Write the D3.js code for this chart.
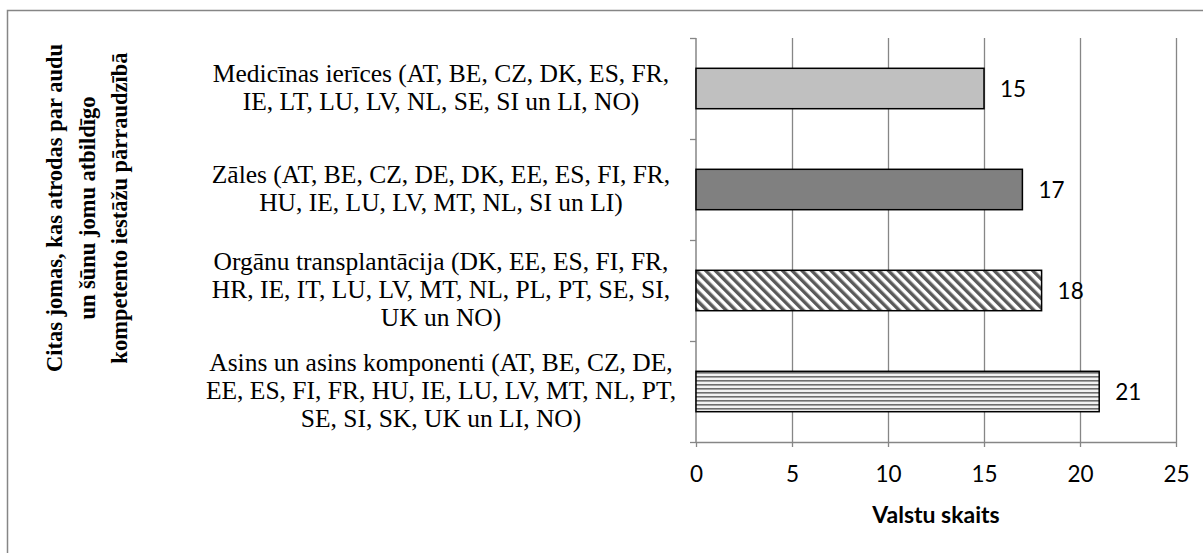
<!DOCTYPE html>
<html>
<head>
<meta charset="utf-8">
<script src="https://cdn.jsdelivr.net/npm/d3@7"></script>
<style>
  html, body { margin: 0; padding: 0; background: #fff; }
  svg { display: block; }
</style>
</head>
<body>
<script>
// Areas supervised by the tissue and cell competent authorities
const categoryLines = [
  ["Medicīnas ierīces (AT, BE, CZ, DK, ES, FR,", "IE, LT, LU, LV, NL, SE, SI un LI, NO)"],
  ["Zāles (AT, BE, CZ, DE, DK, EE, ES, FI, FR,", "HU, IE, LU, LV, MT, NL, SI un LI)"],
  ["Orgānu transplantācija (DK, EE, ES, FI, FR,", "HR, IE, IT, LU, LV, MT, NL, PL, PT, SE, SI,", "UK un NO)"],
  ["Asins un asins komponenti (AT, BE, CZ, DE,", "EE, ES, FI, FR, HU, IE, LU, LV, MT, NL, PT,", "SE, SI, SK, UK un LI, NO)"]
];
const categoryKeys = ["med", "zales", "organi", "asins"];
const values = [15, 17, 18, 21];
const xTicks = [0, 5, 10, 15, 20, 25];
const xTitle = "Valstu skaits";
const yTitleLines = [
  "Citas jomas, kas atrodas par audu",
  "un šūnu jomu atbildīgo",
  "kompetento iestāžu pārraudzībā"
];

(function () {
const W = 1203, H = 553;
const plotLeft = 696, plotRight = 1176, plotTop = 38, plotBottom = 442;
const gridColor = "#868686";
const sans = "Lato, 'Open Sans', sans-serif";
const serif = "'Liberation Serif', 'Times New Roman', serif";

const svg = d3.select("body").append("svg")
  .attr("width", W).attr("height", H);

// hatch patterns
const defs = svg.append("defs");
const diag = defs.append("pattern")
  .attr("id", "diag").attr("patternUnits", "userSpaceOnUse")
  .attr("width", 6.8).attr("height", 6.8)
  .attr("patternTransform", "rotate(-45)");
diag.append("rect").attr("width", 6.8).attr("height", 6.8).attr("fill", "#fff");
diag.append("rect").attr("width", 3.4).attr("height", 6.8).attr("fill", "#5a5a5a");

const horiz = defs.append("pattern")
  .attr("id", "horiz").attr("patternUnits", "userSpaceOnUse")
  .attr("width", 8).attr("height", 4);
horiz.append("rect").attr("width", 8).attr("height", 4).attr("fill", "#f2f2f2");
horiz.append("rect").attr("y", 0).attr("width", 8).attr("height", 1.6).attr("fill", "#6e6e6e");

const fills = ["#c0c0c0", "#808080", "url(#diag)", "url(#horiz)"];

// outer frame (top and left edges)
svg.append("path")
  .attr("d", `M7.5,${H} V10.5 H${W}`)
  .attr("fill", "none").attr("stroke", gridColor).attr("stroke-width", 1.5);

const x = d3.scaleLinear().domain([0, 25]).range([plotLeft, plotRight]);
const y = d3.scaleBand().domain(categoryKeys).range([plotTop, plotBottom])
  .paddingInner(0.6).paddingOuter(0.3);
const edge = d3.scaleLinear().domain([0, categoryKeys.length]).range([plotTop, plotBottom]);

// vertical gridlines
svg.append("g").selectAll("line").data(xTicks.slice(1)).join("line")
  .attr("x1", d => Math.round(x(d)) + 0.5).attr("x2", d => Math.round(x(d)) + 0.5)
  .attr("y1", plotTop).attr("y2", plotBottom)
  .attr("stroke", gridColor).attr("stroke-width", 1.3);

// x axis
const xAxis = svg.append("g")
  .attr("transform", `translate(0,${plotBottom})`)
  .call(d3.axisBottom(x).tickValues(xTicks).tickSizeInner(5).tickSizeOuter(0).tickPadding(19));
xAxis.select(".domain").attr("stroke", gridColor).attr("stroke-width", 1.5);
xAxis.selectAll(".tick line").attr("stroke", gridColor).attr("stroke-width", 1.3);
xAxis.selectAll(".tick text")
  .attr("font-family", sans).attr("font-size", 22.5)
  .attr("fill", "#000");

// y axis line and category boundary ticks
svg.append("line")
  .attr("x1", plotLeft).attr("x2", plotLeft).attr("y1", plotTop).attr("y2", plotBottom)
  .attr("stroke", gridColor).attr("stroke-width", 1.5);
svg.append("g").selectAll("line").data(d3.range(categoryKeys.length + 1)).join("line")
  .attr("x1", plotLeft - 6).attr("x2", plotLeft)
  .attr("y1", d => Math.round(edge(d)) + 0.5).attr("y2", d => Math.round(edge(d)) + 0.5)
  .attr("stroke", gridColor).attr("stroke-width", 1.3);

// bars
svg.append("g").selectAll("rect").data(values).join("rect")
  .attr("x", x(0))
  .attr("y", (d, i) => y(categoryKeys[i]))
  .attr("width", d => x(d) - x(0))
  .attr("height", y.bandwidth())
  .attr("fill", (d, i) => fills[i])
  .attr("stroke", "#000").attr("stroke-width", 1.5);

// value labels
svg.append("g").selectAll("text").data(values).join("text")
  .attr("x", d => x(d) + 16)
  .attr("y", (d, i) => y(categoryKeys[i]) + y.bandwidth() / 2 + 8)
  .attr("font-family", sans).attr("font-size", 22.5)
  .attr("fill", "#000")
  .text(d => d);

// category labels
const lineH = 28;
const catG = svg.append("g")
  .attr("font-family", serif)
  .attr("font-size", 25.5).attr("fill", "#000").attr("text-anchor", "middle");
categoryLines.forEach((lines, i) => {
  const cy = y(categoryKeys[i]) + y.bandwidth() / 2 - 1.5;
  const t = catG.append("text");
  lines.forEach((ln, j) => {
    t.append("tspan")
      .attr("x", 441)
      .attr("y", cy + (j - (lines.length - 1) / 2) * lineH + 8.5)
      .text(ln);
  });
});

// x axis title
svg.append("text")
  .attr("x", (plotLeft + plotRight) / 2).attr("y", 523)
  .attr("text-anchor", "middle")
  .attr("font-family", sans)
  .attr("font-weight", "bold").attr("font-size", 23)
  .attr("fill", "#000")
  .text(xTitle);

// y axis title (rotated, three lines)
const yt = svg.append("text")
  .attr("transform", "translate(0,208) rotate(-90)")
  .attr("text-anchor", "middle")
  .attr("font-family", serif)
  .attr("font-weight", "bold").attr("font-size", 22.5)
  .attr("fill", "#000");
yTitleLines.forEach((ln, j) => {
  yt.append("tspan").attr("x", 0).attr("y", 62 + j * 32.5).text(ln);
});
})();
</script>
</body>
</html>
